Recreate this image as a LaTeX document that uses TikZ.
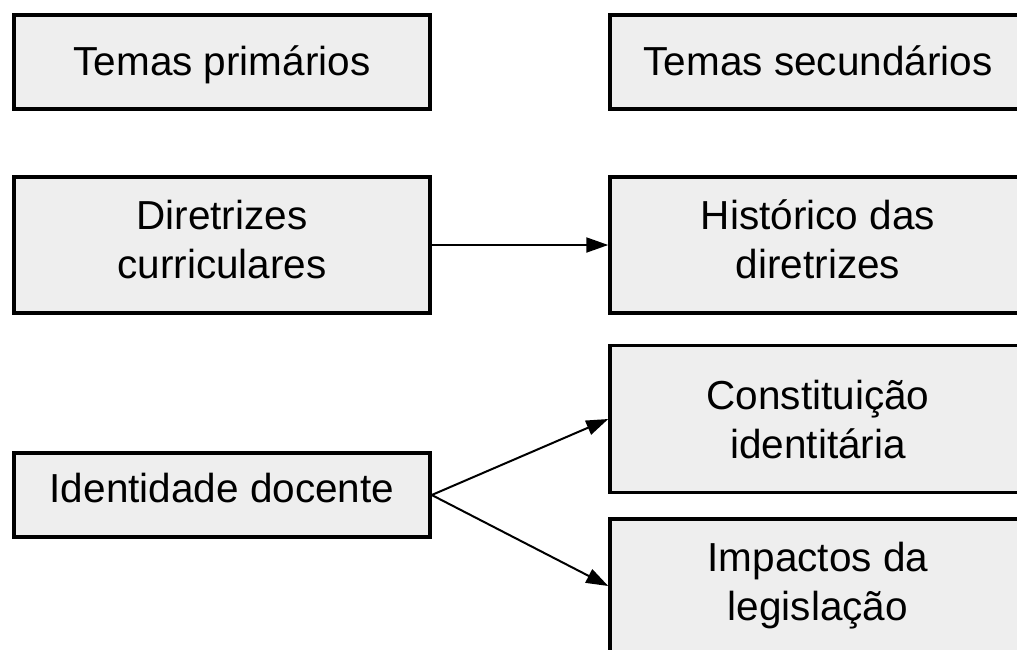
\documentclass[tikz,border=0pt]{standalone}
\usepackage{fontspec}
\setmainfont{Liberation Sans}
\usetikzlibrary{arrows.meta}
\begin{document}
\begin{tikzpicture}[x=1pt,y=-1pt,
  box/.style={draw=black, line width=3.5pt, fill=boxgray, inner sep=0pt, minimum width=416pt, align=center, font=\fontsize{40.5}{49}\selectfont},
  conn/.style={draw=black, line width=2pt, -{Triangle[length=22pt,width=15pt]}}]
\definecolor{boxgray}{HTML}{EEEEEE}
\useasboundingbox (0,0) rectangle (1017,649);
\node[box, minimum height=94pt, text height=30pt, text depth=4pt] (tp) at (222,62) {Temas primários};
\node[box, minimum height=136pt, text height=66pt, text depth=0pt] (dc) at (222,245) {Diretrizes\\curriculares};
\node[box, minimum height=84pt, text height=30pt, text depth=16pt] (id) at (222,495) {Identidade docente};
\node[box, minimum height=94pt, text height=30pt, text depth=4pt] (ts) at (818,62) {Temas secundários};
\node[box, minimum height=136pt, text height=66pt, text depth=0pt] (hd) at (818,245) {Histórico das\\diretrizes};
\node[box, minimum height=147pt, text height=78pt, text depth=0pt] (ci) at (818,419) {Constituição\\identitária};
\node[box, minimum height=134pt, text height=68pt, text depth=0pt] (il) at (818,586) {Impactos da\\legislação};
\draw[conn] (dc.east) -- (hd.west);
\draw[conn] (id.east) -- (ci.west);
\draw[conn] (id.east) -- (il.west);
\end{tikzpicture}
\end{document}
